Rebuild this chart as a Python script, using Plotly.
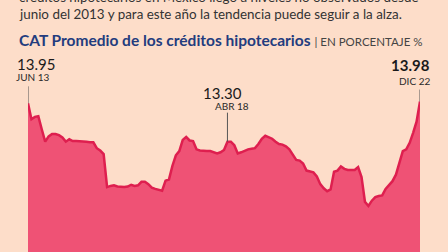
import plotly.graph_objects as go

# Monthly CAT average (%), Jun 2013 .. Dec 2022
values = [
    13.95, 13.68, 13.72, 13.73, 13.51, 13.30, 13.39, 13.43, 13.43, 13.41,
    13.37, 13.30, 13.34, 13.31, 13.31, 13.31, 13.30, 13.30, 13.29, 13.29,
    13.19, 13.15, 13.09, 12.53, 12.55, 12.56, 12.54, 12.53, 12.53, 12.54,
    12.57, 12.55, 12.56, 12.62, 12.62, 12.58, 12.52, 12.50, 12.48, 12.47,
    12.64, 12.66, 12.89, 13.07, 13.14, 13.33, 13.38, 13.32, 13.31, 13.17,
    13.15, 13.14, 13.14, 13.14, 13.12, 13.10, 13.12, 13.16, 13.30, 13.30,
    13.24, 13.10, 13.12, 13.15, 13.17, 13.18, 13.19, 13.26, 13.35, 13.40,
    13.38, 13.35, 13.30, 13.26, 13.25, 13.22, 13.17, 13.07, 12.99, 12.98,
    12.93, 12.81, 12.79, 12.78, 12.71, 12.58, 12.51, 12.46, 12.49, 12.79,
    12.81, 12.88, 12.84, 12.82, 12.82, 12.82, 12.87, 12.70, 12.28, 12.21,
    12.30, 12.36, 12.38, 12.39, 12.50, 12.57, 12.63, 12.74, 12.93, 13.14,
    13.17, 13.28, 13.45, 13.64, 13.98,
]
months = list(range(len(values)))

# highlighted points: (month index, label, value text, bold)
highlights = [
    (0, "JUN 13", "13.95", False),
    (58, "ABR 18", "13.30", False),
    (114, "DIC 22", "13.98", True),
]

title_main = "CAT Promedio de los créditos hipotecarios"
title_unit = "| EN PORCENTAJE %"
text_line1 = "créditos hipotecarios en México llegó a niveles no observados desde"
text_line2 = "junio del 2013 y para este año la tendencia puede seguir a la alza."

BG = "#FDDDC9"
FILL = "#EF5275"
LINE = "#DE1F4F"
FONT = "Lato"

fig = go.Figure()
fig.add_trace(go.Scatter(
    x=months, y=values, mode="lines",
    line=dict(color=LINE, width=2.5),
    fill="tozeroy", fillcolor=FILL,
    hoverinfo="skip",
))

annotations = []
shapes = []
# label layout per highlight: (num xshift, num yshift, num xanchor, lab xshift, lab yshift, lab xanchor, line top px)
layout_specs = {
    0: (-13, 39, "left", -14, 26, "left", 17),
    58: (-5, 49, "center", 5, 36, "center", 29),
    114: (12, 37, "right", 12, 21, "right", 12),
}
for idx, lab, num, bold in highlights:
    v = values[idx]
    nx, ny, nanc, lx, ly, lanc, ltop = layout_specs[idx]
    annotations.append(dict(
        x=idx, y=v, xref="x", yref="y", showarrow=False,
        text=f"<b>{num}</b>" if bold else num,
        font=dict(family=FONT, size=15, color="#1a1a1a"),
        xanchor=nanc, yanchor="middle", xshift=nx, yshift=ny,
    ))
    annotations.append(dict(
        x=idx, y=v, xref="x", yref="y", showarrow=False,
        text=lab,
        font=dict(family=FONT, size=10, color="#2a2a2a"),
        xanchor=lanc, yanchor="middle", xshift=lx, yshift=ly,
    ))
    shapes.append(dict(
        type="line", xref="x", yref="y", ysizemode="pixel", yanchor=v,
        x0=idx, x1=idx, y0=0, y1=ltop,
        line=dict(color="#555555", width=1),
    ))

header = [
    (17, -3, text_line1, 13.4, "#333333"),
    (17, 14, text_line2, 13.4, "#333333"),
    (17, 40, f"<b>{title_main}</b> <span style='color:#444444;font-size:11.5px'>{title_unit}</span>",
     15.5, "#233C7E"),
]

H, W = 252, 448
for px, py, txt, size, col in header:
    annotations.append(dict(
        x=(px - 28) / (W - 56), y=(H - py) / (H - 60),
        xref="paper", yref="paper", showarrow=False,
        text=txt, font=dict(family=FONT, size=size, color=col),
        xanchor="left", yanchor="middle",
    ))

fig.update_layout(
    width=W, height=H,
    margin=dict(l=28, r=28, t=60, b=0),
    paper_bgcolor=BG, plot_bgcolor=BG,
    showlegend=False,
    xaxis=dict(range=[0, len(values) - 1], visible=False, fixedrange=True),
    yaxis=dict(range=[11.43, 11.43 + 192 / 59], visible=False, fixedrange=True),
    annotations=annotations,
    shapes=shapes,
)

fig.write_html("out.html", config={"displayModeBar": False})
